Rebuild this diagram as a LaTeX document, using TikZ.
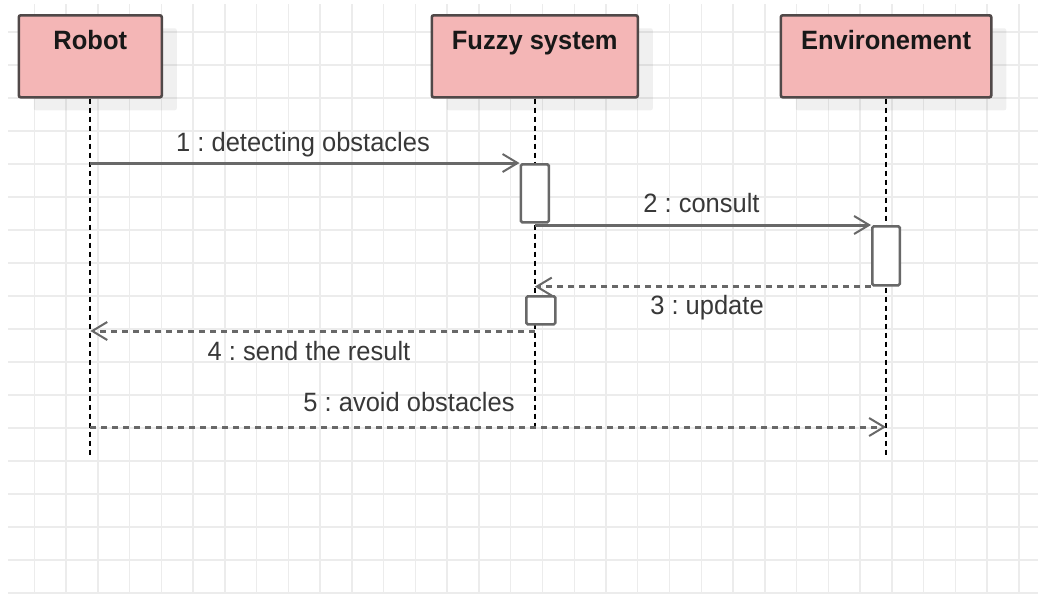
\documentclass[tikz,border=0pt]{standalone}
\usepackage{fontspec}
\setmainfont{Liberation Sans}[FakeStretch=0.962]
\usetikzlibrary{arrows.meta,shadows,calc}

\definecolor{boxpink}{RGB}{244,182,182}
\definecolor{boxedge}{RGB}{80,72,72}
\definecolor{msgline}{RGB}{104,104,104}
\definecolor{gridgray}{RGB}{236,236,236}
\definecolor{titletext}{RGB}{24,24,24}
\definecolor{labeltext}{RGB}{56,56,56}

\tikzset{
  gridline/.style={draw=gridgray, line width=1.4pt},
  actor/.style={draw=boxedge, line width=2.6pt, fill=boxpink, rounded corners=2pt,
    inner sep=0pt, anchor=north west,
    drop shadow={shadow xshift=15pt, shadow yshift=-13pt, opacity=0.06, fill=black}},
  actortitle/.style={anchor=base, inner sep=0pt, text=titletext,
    font=\fontsize{26.5}{30}\selectfont\bfseries},
  lifeline/.style={draw=black, line width=2pt, dash pattern=on 5pt off 4pt},
  activation/.style={draw=msgline, line width=2.6pt, fill=white, rounded corners=1.5pt,
    inner sep=0pt},
  msg/.style={draw=msgline, line width=3pt,
    -{Straight Barb[length=15pt, width=18pt, line width=2pt]}},
  reply/.style={msg, dash pattern=on 6pt off 5pt},
  msglabel/.style={anchor=base, inner sep=0pt, text=labeltext,
    font=\fontsize{26.5}{30}\selectfont}
}

\begin{document}
\frenchspacing
\begin{tikzpicture}[x=1pt, y=-1pt]
  \useasboundingbox (0,0) rectangle (1038,595);
  \fill[white] (0,0) rectangle (1038,595);

  % background grid
  \foreach \i in {1,...,32}
    \draw[gridline] ({2.55+31.76*\i},4) -- ({2.55+31.76*\i},594);
  \foreach \j in {1,...,18}
    \draw[gridline] (8,{-1+33*\j}) -- (1038,{-1+33*\j});

  % participants
  \node[actor, minimum width=143pt, minimum height=82pt] (robot) at (17.5,14) {};
  \node[actor, minimum width=206pt, minimum height=82pt] (fuzzy) at (430.5,14) {};
  \node[actor, minimum width=210.5pt, minimum height=82pt] (env) at (779.5,14) {};
  \node[actortitle] (robotT) at ($(robot.north)+(0,35.3)$) {Robot};
  \node[actortitle] (fuzzyT) at ($(fuzzy.north)+(0,35.3)$) {Fuzzy system};
  \node[actortitle] (envT) at ($(env.north)+(0,35.3)$) {Environement};

  % lifelines
  \coordinate (robotEnd) at (robot.south |- 0,458);
  \coordinate (fuzzyEnd) at (fuzzy.south |- 0,427);
  \coordinate (envEnd) at (env.south |- 0,458);
  \draw[lifeline] (robot.south) -- (robotEnd);
  \draw[lifeline] (fuzzy.south) -- (fuzzyEnd);
  \draw[lifeline] (env.south) -- (envEnd);

  % activation bars
  \node[activation, minimum width=28pt, minimum height=58pt, anchor=north]
    (act1) at (fuzzy.south |- 0,163) {};
  \node[activation, minimum width=27.5pt, minimum height=59pt, anchor=north]
    (act2) at (env.south |- 0,225) {};
  \node[activation, minimum width=29pt, minimum height=28pt, anchor=north west]
    (act3) at (525,295) {};

  % messages
  \coordinate (m1s) at (robot.south |- act1.north west);
  \coordinate (m2s) at (fuzzy.south |- act2.north);
  \coordinate (m3e) at (fuzzy.south |- act2.south);
  \coordinate (m4s) at (fuzzy.south |- 0,331);
  \coordinate (m4e) at (robot.south |- 0,331);
  \coordinate (m5s) at (robot.south |- fuzzyEnd);
  \coordinate (m5e) at (env.south |- fuzzyEnd);

  \draw[msg] (m1s) -- (act1.north west);
  \draw[msg] (m2s) -- (act2.north west);
  \draw[reply] (act2.south west) -- (m3e);
  \draw[reply] (m4s) -- (m4e);
  \draw[reply] (m5s) -- (m5e);

  % message labels
  \node[msglabel] (l1) at (303,151.7) {1 : detecting obstacles};
  \node[msglabel] (l2) at (701.5,212.7) {2 : consult};
  \node[msglabel] (l3) at (707,314) {3 : update};
  \node[msglabel] (l4) at (309,360) {4 : send the result};
  \node[msglabel] (l5) at (409,411.7) {5 : avoid obstacles};
\end{tikzpicture}
\end{document}
